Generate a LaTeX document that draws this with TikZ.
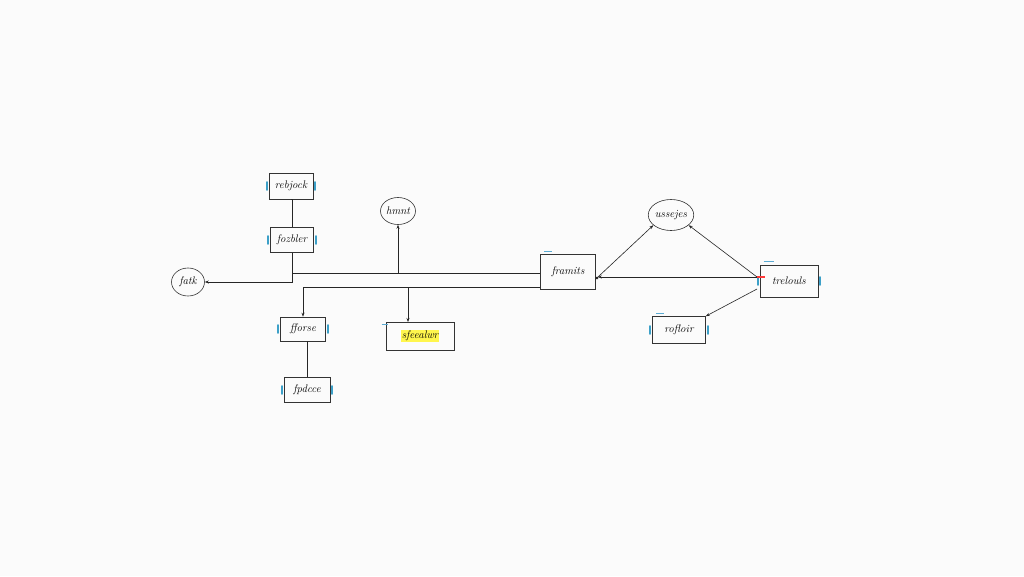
\documentclass[tikz,border=0pt]{standalone}
\usetikzlibrary{shapes.geometric,arrows.meta,calc}
\begin{document}
\begin{tikzpicture}[x=1pt,y=-1pt,
  box/.style={draw=black!80, line width=0.6pt, inner sep=0pt, font=\fontsize{11}{13}\selectfont\itshape},
  oval/.style={draw=black!80, line width=0.6pt, ellipse, inner sep=0pt, font=\fontsize{11}{13}\selectfont\itshape},
  conn/.style={draw=black!85, line width=0.6pt},
  tip/.style={-{Stealth[length=4pt,width=3pt]}},
  bm/.style={draw={rgb,255:red,60;green,160;blue,200}, line width=1.8pt, line cap=round},
  bmt/.style={draw={rgb,255:red,90;green,170;blue,210}, line width=0.8pt}]
\fill[white!97!gray] (0,0) rectangle (1024,576);
\useasboundingbox (0,0) rectangle (1024,576);
% nodes
\node[box, minimum width=44, minimum height=26] (rebjock) at (291,186) {rebjock};
\node[box, minimum width=43, minimum height=25] (fozbler) at (292,240) {fozbler};
\node[oval, minimum width=33, minimum height=28] (fatk) at (188,282) {fatk};
\node[oval, minimum width=35, minimum height=27] (hmnt) at (398,211) {hmnt};
\node[box, minimum width=55, minimum height=35] (framits) at (568,272) {framits};
\node[oval, minimum width=42, minimum height=31] (ussejes) at (671,215) {ussejes};
\node[box, minimum width=58, minimum height=32] (trelouls) at (789,281) {trelouls};
\node[box, minimum width=53, minimum height=27] (rofloir) at (679,330) {rofloir};
\node[box, minimum width=45, minimum height=24] (fforse) at (303,329) {fforse};
\node[box, minimum width=68, minimum height=28] (sfeealwr) at (420,336) {\setlength{\fboxsep}{1pt}\colorbox{yellow!70}{sfeealwr}};
\node[box, minimum width=46, minimum height=25] (fpdcce) at (307,390) {fpdcce};
% blue marks
\foreach \n in {rebjock,fozbler,fforse,fpdcce,trelouls,rofloir}{
  \draw[bm] ([xshift=-2pt]\n.west) ++(0,-4) -- ++(0,8);
  \draw[bm] ([xshift=2pt]\n.east) ++(0,-4) -- ++(0,8);
}
\draw[bmt] ([xshift=4pt,yshift=3pt]framits.north west) -- ++(8,0);
\draw[bmt] ([xshift=4pt,yshift=3pt]trelouls.north west) -- ++(10,0);
\draw[bmt] ([xshift=4pt,yshift=3pt]rofloir.north west) -- ++(8,0);
\draw[bmt] ([xshift=-4pt,yshift=-3pt]sfeealwr.north west) -- ++(6,0);
% coordinates
\coordinate (j1) at (293,273);
\coordinate (j2) at (303,287);
\coordinate (s1) at (408,287);
\coordinate (s2) at (408,322);
\coordinate (t1) at (757,277);
\coordinate (t2) at (757,289);
% connectors
\draw[conn] (rebjock.south) -- (fozbler.south |- rebjock.south) -- (fozbler.north);
\draw[conn, tip] (fozbler.south) |- (fatk.east);
\draw[conn] (j1) -- (framits.west |- j1);
\draw[conn, tip] (hmnt.south |- j1) -- (hmnt.south);
\draw[conn, tip] (framits.west |- j2) -| (fforse.north);
\draw[conn, tip] (s1) -- (s2);
\draw[conn] (fforse.south -| fpdcce.north) -- (fpdcce.north);
\draw[conn, {Circle[length=3pt]}-{Stealth[length=4pt,width=3pt]}] ([yshift=-7pt]framits.east) -- (ussejes.210);
\draw[conn, tip] (t1) -- (ussejes.330);
\draw[conn, tip] (t1) -- ([xshift=2pt]framits.east |- t1);
\draw[conn, tip] (t2) -- (rofloir.north east);
\draw[draw=red!70!pink, line width=1.4pt] (t1) -- ++(8,0);
\end{tikzpicture}
\end{document}
